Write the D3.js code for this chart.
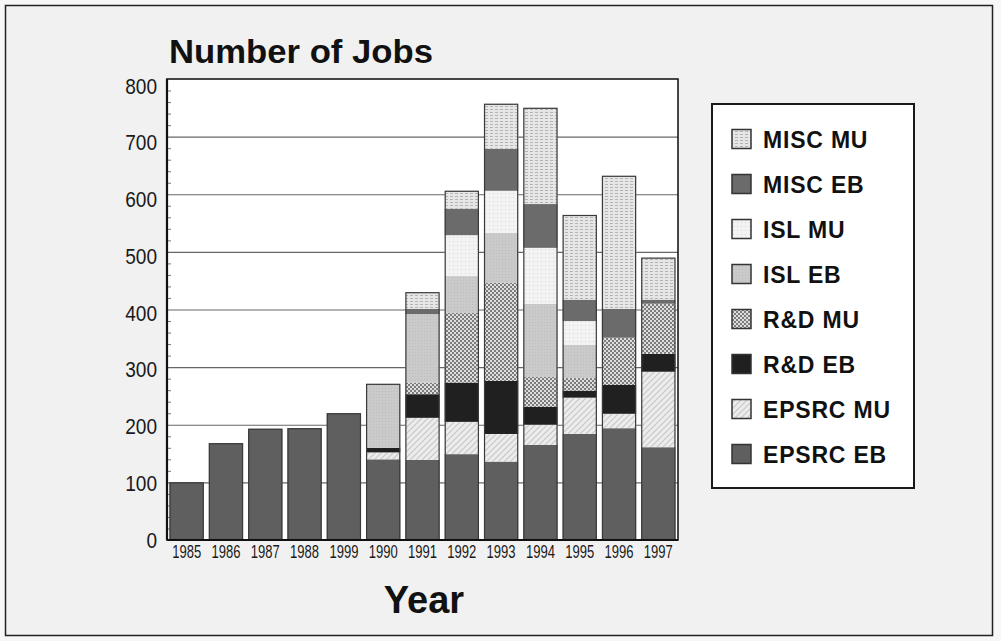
<!DOCTYPE html>
<html>
<head>
<meta charset="utf-8">
<script src="https://cdn.jsdelivr.net/npm/d3@7"></script>
<style>
  html, body { margin: 0; padding: 0; background: #ffffff; }
  svg { display: block; }
</style>
</head>
<body>
<script>
// ---- Data ----
const years = ["1985","1986","1987","1988","1999","1990","1991","1992","1993","1994","1995","1996","1997"];
const seriesNames = ["EPSRC EB","EPSRC MU","R&D EB","R&D MU","ISL EB","ISL MU","MISC EB","MISC MU"];
const epsrcEB = [100,168,193,194,220,140,139,149,136,165,184,194,161];
const epsrcMU = [0,0,0,0,0,12,73,56,48,35,63,25,131];
const rdEB    = [0,0,0,0,0,8,41,68,92,31,12,50,31];
const rdMU    = [0,0,0,0,0,0,20,121,170,52,22,82,87];
const islEB   = [0,0,0,0,0,111,119,64,87,127,58,0,0];
const islMU   = [0,0,0,0,0,0,0,71,73,97,41,0,0];
const miscEB  = [0,0,0,0,0,0,9,46,73,76,37,50,7];
const miscMU  = [0,0,0,0,0,0,29,31,78,167,147,231,73];
const yTicks  = [0,100,200,300,400,500,600,700,800];
const legendOrder = ["MISC MU","MISC EB","ISL MU","ISL EB","R&D MU","R&D EB","EPSRC MU","EPSRC EB"];

const seriesValues = [epsrcEB, epsrcMU, rdEB, rdMU, islEB, islMU, miscEB, miscMU];
const table = years.map((y, i) => {
  const row = { year: y };
  seriesNames.forEach((s, k) => row[s] = seriesValues[k][i]);
  return row;
});

const W = 1001, H = 641;
const svg = d3.select("body").append("svg").attr("width", W).attr("height", H);

// ---- Patterns ----
const defs = svg.append("defs");
function pat(id, w, h, bg, draw) {
  const p = defs.append("pattern").attr("id", id).attr("patternUnits", "userSpaceOnUse")
    .attr("width", w).attr("height", h);
  p.append("rect").attr("width", w).attr("height", h).attr("fill", bg);
  draw(p);
  return p;
}
pat("pEpsrcMU", 6, 6, "#ececec", p => {
  p.append("path").attr("d", "M0,6 L6,0 M-1,1 L1,-1 M5,7 L7,5").attr("stroke", "#c8c8c8").attr("stroke-width", 1.2);
});
pat("pRdMU", 4, 4, "#dedede", p => {
  p.append("rect").attr("x", 0).attr("y", 0).attr("width", 2).attr("height", 2).attr("fill", "#7c7c7c");
  p.append("rect").attr("x", 2).attr("y", 2).attr("width", 2).attr("height", 2).attr("fill", "#7c7c7c");
});
pat("pIslMU", 4, 4, "#f3f3f3", p => {
  p.append("rect").attr("x", 1).attr("y", 1).attr("width", 1).attr("height", 1).attr("fill", "#d6d6d6");
});
pat("pIslEB", 3, 3, "#cacaca", p => {
  p.append("rect").attr("x", 1).attr("y", 1).attr("width", 1).attr("height", 1).attr("fill", "#bdbdbd");
});
pat("pMiscMU", 5, 3, "#e6e6e6", p => {
  p.append("rect").attr("x", 0).attr("y", 1).attr("width", 3).attr("height", 1).attr("fill", "#b4b4b4");
});

const fills = {
  "EPSRC EB": "#5f5f5f",
  "EPSRC MU": "url(#pEpsrcMU)",
  "R&D EB": "#202020",
  "R&D MU": "url(#pRdMU)",
  "ISL EB": "url(#pIslEB)",
  "ISL MU": "url(#pIslMU)",
  "MISC EB": "#6b6b6b",
  "MISC MU": "url(#pMiscMU)"
};

// ---- Background & frame ----
svg.append("rect").attr("x", 0).attr("y", 0).attr("width", W).attr("height", H).attr("fill", "#f7f7f7");
svg.append("rect").attr("x", 5.5).attr("y", 5.5).attr("width", 987).attr("height", 630)
  .attr("fill", "#f1f1f1").attr("stroke", "#222").attr("stroke-width", 1.5);

// ---- Scales ----
const plot = { left: 167, right: 678, top: 79, bottom: 540 };
const x = d3.scaleBand().domain(years).range([plot.left, plot.right]).paddingInner(0.13).paddingOuter(0.065);
const y = d3.scaleLinear().domain([0, 800]).range([plot.bottom, plot.top]);
const yLab = d3.scaleLinear().domain([0, 800]).range([plot.bottom, plot.top + 7]);

// Plot area
svg.append("rect").attr("x", plot.left).attr("y", plot.top)
  .attr("width", plot.right - plot.left).attr("height", plot.bottom - plot.top).attr("fill", "#ffffff");

// Gridlines
svg.append("g").selectAll("line").data(yTicks.slice(1, -1)).join("line")
  .attr("x1", plot.left).attr("x2", plot.right)
  .attr("y1", d => y(d) + 0.5).attr("y2", d => y(d) + 0.5)
  .attr("stroke", "#666").attr("stroke-width", 1.2);

// Minor ticks on inside of left axis
const minor = d3.range(0, 801, 20).filter(v => v % 100 !== 0);
svg.append("g").selectAll("line").data(minor).join("line")
  .attr("x1", plot.left).attr("x2", plot.left + 4)
  .attr("y1", d => y(d) + 0.5).attr("y2", d => y(d) + 0.5)
  .attr("stroke", "#777").attr("stroke-width", 1);

// ---- Stacked bars ----
const stack = d3.stack().keys(seriesNames)(table);
const gBars = svg.append("g");
stack.forEach(layer => {
  gBars.append("g").selectAll("rect").data(layer.filter(d => d[1] - d[0] > 0)).join("rect")
    .attr("x", d => x(d.data.year))
    .attr("width", x.bandwidth())
    .attr("y", d => y(d[1]))
    .attr("height", d => y(d[0]) - y(d[1]))
    .attr("fill", fills[layer.key]);
});
// Bar outlines
const totals = table.map(r => ({ year: r.year, total: d3.sum(seriesNames, s => r[s]) }));
svg.append("g").selectAll("rect").data(totals).join("rect")
  .attr("x", d => x(d.year) + 0.5)
  .attr("width", x.bandwidth() - 1)
  .attr("y", d => y(d.total) + 0.5)
  .attr("height", d => y(0) - y(d.total) - 1)
  .attr("fill", "none").attr("stroke", "#3a3a3a").attr("stroke-width", 1.2);

// Plot frame
svg.append("rect").attr("x", plot.left).attr("y", plot.top)
  .attr("width", plot.right - plot.left).attr("height", plot.bottom - plot.top)
  .attr("fill", "none").attr("stroke", "#1a1a1a").attr("stroke-width", 1.6);
svg.append("line").attr("x1", plot.left).attr("x2", plot.left).attr("y1", plot.top).attr("y2", plot.bottom)
  .attr("stroke", "#111").attr("stroke-width", 2.2);
svg.append("line").attr("x1", plot.left).attr("x2", plot.right).attr("y1", plot.bottom).attr("y2", plot.bottom)
  .attr("stroke", "#111").attr("stroke-width", 2.2);

// ---- Axes (labels) ----
const sans = "'Liberation Sans', Arial, Helvetica, sans-serif";
const yAxis = svg.append("g").attr("transform", `translate(${plot.left - 10},0)`)
  .call(d3.axisLeft(yLab).tickValues(yTicks).tickSize(0).tickPadding(0));
yAxis.select(".domain").remove();
yAxis.selectAll("text").attr("font-family", sans).attr("font-size", 22).attr("fill", "#1a1a1a")
  .attr("textLength", d => String(d).length * 10.6).attr("lengthAdjust", "spacingAndGlyphs");

const xAxis = svg.append("g").attr("transform", `translate(0,${plot.bottom})`)
  .call(d3.axisBottom(x).tickSize(0).tickPadding(5));
xAxis.select(".domain").remove();
xAxis.selectAll("text").attr("font-family", sans).attr("font-size", 19).attr("fill", "#1a1a1a")
  .attr("textLength", 29).attr("lengthAdjust", "spacingAndGlyphs");

// ---- Titles ----
svg.append("text").attr("x", 169).attr("y", 63).text("Number of Jobs")
  .attr("font-family", sans).attr("font-weight", "bold").attr("font-size", 33).attr("fill", "#111")
  .attr("textLength", 264).attr("lengthAdjust", "spacingAndGlyphs");
svg.append("text").attr("x", 424).attr("y", 613).attr("text-anchor", "middle").text("Year")
  .attr("font-family", sans).attr("font-weight", "bold").attr("font-size", 38).attr("fill", "#111");

// ---- Legend ----
const lg = svg.append("g");
lg.append("rect").attr("x", 712).attr("y", 104).attr("width", 202).attr("height", 384)
  .attr("fill", "#ffffff").attr("stroke", "#1a1a1a").attr("stroke-width", 2);
const ly = d3.scalePoint().domain(legendOrder).range([139, 454]);
const items = lg.selectAll("g.item").data(legendOrder).join("g").attr("class", "item")
  .attr("transform", d => `translate(0,${ly(d)})`);
items.append("rect").attr("x", 732).attr("y", -9.5).attr("width", 19).attr("height", 19)
  .attr("fill", d => fills[d]).attr("stroke", "#333").attr("stroke-width", 1.5);
items.append("text").attr("x", 763).attr("y", 8.5).text(d => d)
  .attr("font-family", sans).attr("font-weight", "bold").attr("font-size", 23)
  .attr("letter-spacing", 0.8).attr("fill", "#111");
</script>
</body>
</html>
